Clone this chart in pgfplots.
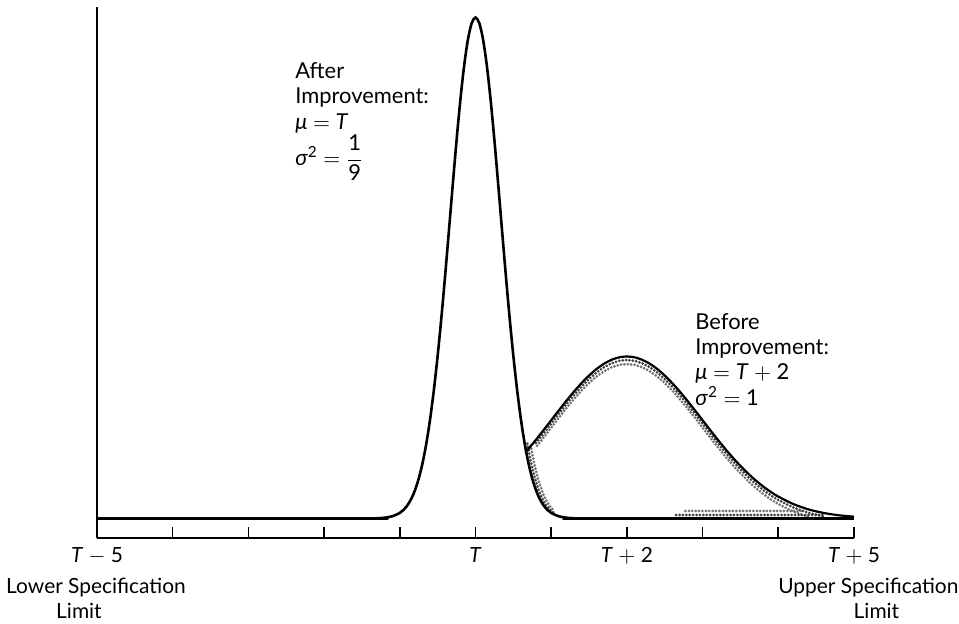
\documentclass[border=0pt]{standalone}
\usepackage{fontspec}
\setmainfont{Lato}
\usepackage{pgfplots}
\usepackage{pgfplotstable}
\pgfplotsset{compat=1.18}

% after improvement: mu = T, sigma^2 = 1/9 (heights)
\pgfplotstableread{
x     y
-5.00 0
-1.40 0
-1.30 0.002
-1.20 0.008
-1.10 0.022
-1.00 0.0557
-0.95 0.0863
-0.90 0.1309
-0.85 0.1940
-0.80 0.2812
-0.75 0.3986
-0.70 0.5524
-0.65 0.7484
-0.60 0.9915
-0.55 1.2843
-0.50 1.6265
-0.45 2.0141
-0.40 2.4386
-0.35 2.8869
-0.30 3.3416
-0.25 3.7817
-0.20 4.1847
-0.15 4.5275
-0.10 4.7896
-0.05 4.9539
0.00  5.0100
0.05  4.9539
0.10  4.7896
0.15  4.5275
0.20  4.1847
0.25  3.7817
0.30  3.3416
0.35  2.8869
0.40  2.4386
0.45  2.0141
0.50  1.6265
0.55  1.2843
0.60  0.9915
0.65  0.7484
0.70  0.5524
0.75  0.3986
0.80  0.2812
0.85  0.1940
0.90  0.1309
0.95  0.0863
1.00  0.0557
1.10  0.022
1.20  0.008
1.30  0.002
1.40  0
5.00  0
}\narrow

% before improvement: mu = T+2, sigma^2 = 1
\pgfplotstableread{
x    y
0.66 0.660
0.70 0.6959
0.80 0.7885
0.90 0.8846
1.00 0.9826
1.10 1.0805
1.20 1.1764
1.30 1.2680
1.40 1.3531
1.50 1.4297
1.60 1.4955
1.70 1.5487
1.80 1.5879
1.90 1.6119
2.00 1.6200
2.10 1.6119
2.20 1.5879
2.30 1.5487
2.40 1.4955
2.50 1.4297
2.60 1.3531
2.70 1.2680
2.80 1.1764
2.90 1.0805
3.00 0.9826
3.10 0.8846
3.20 0.7885
3.30 0.6959
3.40 0.6080
3.50 0.5259
3.60 0.4504
3.70 0.3819
3.80 0.3206
3.90 0.2664
4.00 0.2192
4.20 0.1441
4.40 0.0909
4.60 0.0552
4.80 0.0321
5.00 0.0180
}\broad

\begin{document}
\begin{tikzpicture}
\useasboundingbox (-48.5bp,-43bp) rectangle (431bp,269bp);
\begin{axis}[
  at={(0,0)}, anchor=south west,
  scale only axis, width=378.5bp, height=265.5bp,
  xmin=-5, xmax=5, ymin=-0.195, ymax=5.115,
  axis lines=left, axis line style={-, line width=0.9bp},
  xtick={-5,...,5},
  xticklabels={{\textit{T} $-$ 5},{},{},{},{},{\textit{T}},{},{\textit{T} $+$ 2},{},{},{\textit{T} $+$ 5}},
  ytick=\empty,
  tick align=inside, major tick length=5.5bp,
  tick style={black, line width=0.8bp},
  xticklabel style={font=\fontsize{10.5}{12}\selectfont, inner sep=0pt, anchor=north, yshift=-4.5bp},
  clip=false,
  stip/.style={draw=black!75, line width=1.5bp, line cap=round, dash pattern=on 0pt off 1.7bp},
]
% stippled border of the region between the two curves
\addplot[stip] table[y expr=\thisrow{y}-0.035, restrict x to domain=0.72:4.7] {\broad};
\addplot[stip, dash phase=0.85bp, draw=black!55] table[y expr=\thisrow{y}-0.075, restrict x to domain=0.75:4.5] {\broad};
\addplot[stip] table[x expr=\thisrow{x}+0.035, restrict x to domain=0.66:1.1] {\narrow};
\addplot[stip, dash phase=0.85bp, draw=black!55] table[x expr=\thisrow{x}+0.075, restrict x to domain=0.7:1.05] {\narrow};
\addplot[stip] coordinates {(2.65,0.035) (4.6,0.035)};
\addplot[stip, dash phase=0.85bp, draw=black!55] coordinates {(2.75,0.075) (4.3,0.075)};

\addplot[black, line width=1.3bp, smooth] table {\narrow};
\addplot[black, line width=1.1bp, smooth] table {\broad};

\node[anchor=north west, align=left, inner sep=0pt, font=\fontsize{11}{12.8}\selectfont]
  at (axis cs:-2.385,4.565)
  {After\\Improvement:\\\textit{μ} $=$ \textit{T}\\\textit{σ}\textsuperscript{2} $=$ $\displaystyle\frac{\mbox{1}}{\mbox{9}}$};
\node[anchor=north west, align=left, inner sep=0pt, font=\fontsize{11}{12.7}\selectfont]
  at (axis cs:2.9,2.055)
  {Before\\Improvement:\\\textit{μ} $=$ \textit{T} $+$ 2\\\textit{σ}\textsuperscript{2} $=$ 1};

\node[anchor=base, inner sep=0pt, font=\fontsize{10.5}{12}\selectfont] at (axis cs:-5.013,-0.745) {Lower Specification};
\node[anchor=base, inner sep=0pt, font=\fontsize{10.5}{12}\selectfont] at (axis cs:-5.238,-0.995) {Limit};
\node[anchor=base, inner sep=0pt, font=\fontsize{10.5}{12}\selectfont] at (axis cs:5.19,-0.745) {Upper Specification};
\node[anchor=base, inner sep=0pt, font=\fontsize{10.5}{12}\selectfont] at (axis cs:5.297,-0.995) {Limit};
\end{axis}
\end{tikzpicture}
\end{document}
